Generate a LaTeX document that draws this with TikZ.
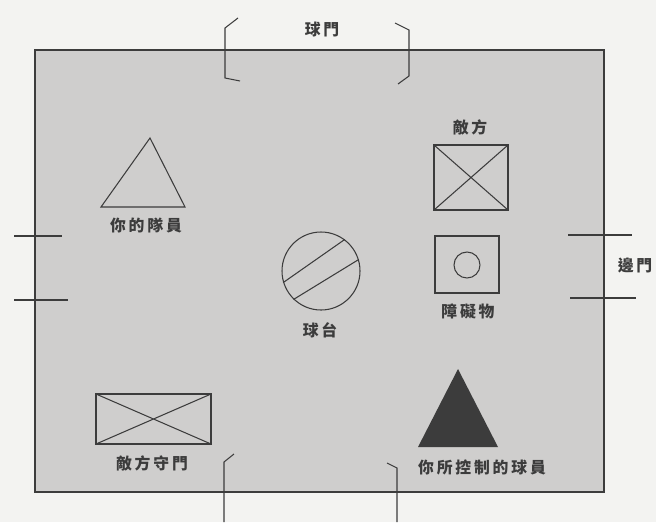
\documentclass[tikz,border=0pt]{standalone}
\usepackage{fontspec}
\newfontfamily\cjk[LetterSpace=18]{Noto Sans CJK TC}
\usepackage{xcolor}
\definecolor{fieldgray}{HTML}{CFCECD}
\definecolor{paper}{HTML}{F3F3F1}
\definecolor{ink}{HTML}{3C3C3C}

\begin{document}
\begin{tikzpicture}[x=0.03cm, y=-0.03cm, line width=0.9pt,
    lbl/.style={font=\cjk\bfseries\fontsize{13.5}{15}\selectfont, text=ink, inner sep=1pt}]
  \fill[paper] (0,0) rectangle (656,522);
  \useasboundingbox (0,0) rectangle (656,522);
  % field
  \filldraw[fill=fieldgray, draw=ink, line width=1.1pt] (35,50) rectangle (604,492);
  % top goal
  \draw[ink] (238,18) -- (225,28) -- (225,78) -- (240,81);
  \draw[ink] (395,23) -- (409,30) -- (409,76) -- (398,84);
  \node[lbl] (topgoal) at (322,30) {球門};
  % bottom goal
  \draw[ink] (234,454) -- (224,462) -- (224,522);
  \draw[ink] (387,463) -- (397,468) -- (397,522);
  % left goal
  \draw[ink] (14,236) -- (62,236);
  \draw[ink] (14,300) -- (68,300);
  % right goal
  \draw[ink] (568,235) -- (632,235);
  \draw[ink] (570,298) -- (636,298);
  \node[lbl] (sidegoal) at (635,266) {邊門};
  % your teammate
  \draw[ink] (150,138) -- (101,207) -- (185,207) -- cycle;
  \node[lbl] (mate) at (146,225) {你的隊員};
  % enemy
  \node[lbl] (enemy) at (470,127) {敵方};
  \draw[ink] (434,145) rectangle (508,210);
  \draw[ink] (434,145) -- (508,210) (434,210) -- (508,145);
  % obstacle
  \draw[ink] (435,236) rectangle (499,293);
  \draw[ink] (467,265) circle (13);
  \node[lbl] (block) at (468,311) {障礙物};
  % ball
  \node[draw=ink, circle, minimum size=78*0.03cm, inner sep=0pt] (ball) at (321,271) {};
  \draw[ink] (ball.197) -- (ball.53);
  \draw[ink] (ball.226) -- (ball.17);
  \node[lbl] (balllbl) at (320,330) {球台};
  % enemy keeper
  \draw[ink] (96,394) rectangle (211,444);
  \draw[ink] (96,394) -- (211,444) (96,444) -- (211,394);
  \node[lbl] (keeper) at (152,463) {敵方守門};
  % your player
  \fill[ink] (458,369) -- (418,447) -- (498,447) -- cycle;
  \node[lbl] (player) at (482,467) {你所控制的球員};
\end{tikzpicture}
\end{document}
